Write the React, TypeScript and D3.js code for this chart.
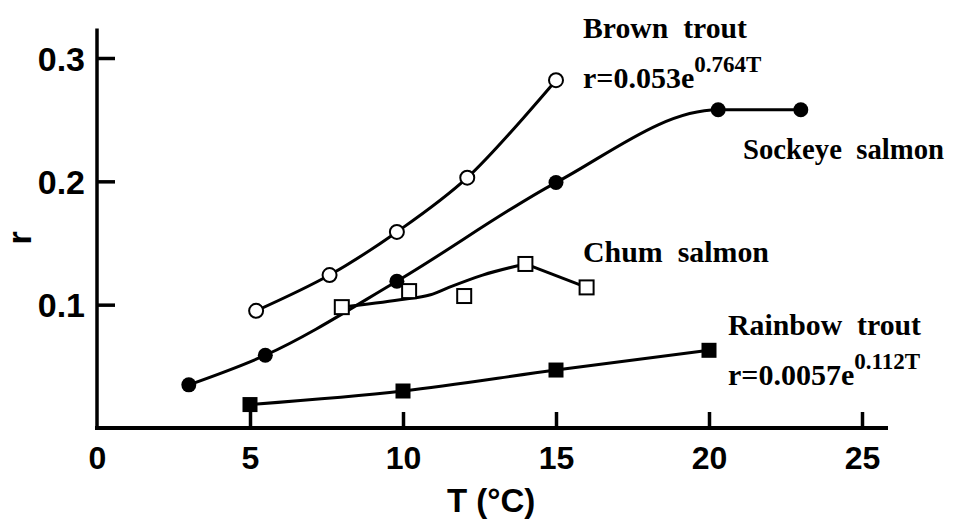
import React, { useEffect, useRef } from 'react';
import * as d3 from 'd3';

// temperature (°C) and growth rate r
const tempTicks = [0, 5, 10, 15, 20, 25];
const rTicks = [0.1, 0.2, 0.3];

const brownT = [5.2, 7.6, 9.8, 12.1, 15];
const brownR = [0.095, 0.124, 0.159, 0.203, 0.282];

const sockeyeT = [3, 5.5, 9.8, 15, 20.3, 23];
const sockeyeR = [0.035, 0.059, 0.119, 0.199, 0.258, 0.258];

const chumT = [8, 10.2, 12, 14, 16];
const chumR = [0.098, 0.111, 0.107, 0.133, 0.114];
// hand-drawn smooth line through the chum salmon points
const chumFitT = [8, 9.9, 10.9, 11.5, 12.6, 14];
const chumFitR = [0.098, 0.104, 0.108, 0.114, 0.124, 0.133];

const rainbowT = [5, 10, 15, 20];
const rainbowR = [0.019, 0.03, 0.047, 0.063];

const zip = (t: number[], r: number[]) => t.map((d, i) => [d, r[i]] as [number, number]);

const App = () => {
  const ref = useRef<SVGSVGElement>(null);

  useEffect(() => {
    const width = 954;
    const height = 519;
    const svg = d3.select(ref.current);
    svg.selectAll('*').remove();
    svg.attr('width', width).attr('height', height);

    const x = d3.scaleLinear().domain([0, 25]).range([97, 862]);
    const y = d3.scaleLinear().domain([0, 0.3]).range([428, 58]);

    const sans = "'Liberation Sans', Arial, sans-serif";
    const serif = "'Liberation Serif', 'Times New Roman', serif";

    // axis lines
    svg.append('line')
      .attr('x1', x(0)).attr('x2', x(0))
      .attr('y1', y(0) + 2).attr('y2', y(0.324))
      .attr('stroke', '#000').attr('stroke-width', 3.5);
    svg.append('line')
      .attr('x1', x(0) - 2).attr('x2', x(25.85))
      .attr('y1', y(0)).attr('y2', y(0))
      .attr('stroke', '#000').attr('stroke-width', 4);

    // y axis ticks point inward
    const yAxis = d3.axisLeft(y).tickValues(rTicks).tickSize(-18).tickSizeOuter(0)
      .tickPadding(12).tickFormat(d3.format('.1f'));
    const gy = svg.append('g').attr('transform', `translate(${x(0)},0)`).call(yAxis);
    gy.select('.domain').remove();
    gy.selectAll('line').attr('stroke', '#000').attr('stroke-width', 3.5);
    gy.selectAll('text')
      .attr('font-family', sans).attr('font-weight', 'bold').attr('font-size', 34)
      .attr('fill', '#000').attr('dy', '0.36em');

    // x axis ticks point up
    const xAxis = d3.axisBottom(x).tickValues(tempTicks).tickSize(-16).tickSizeOuter(0)
      .tickPadding(18).tickFormat(d3.format('d'));
    const gx = svg.append('g').attr('transform', `translate(0,${y(0)})`).call(xAxis);
    gx.select('.domain').remove();
    gx.selectAll('line').attr('stroke', '#000').attr('stroke-width', 3.5);
    gx.selectAll('.tick').filter((d) => d === 0).select('line').remove();
    gx.selectAll('text')
      .attr('font-family', sans).attr('font-weight', 'bold').attr('font-size', 32)
      .attr('fill', '#000').attr('dy', '0.71em');

    // axis titles
    svg.append('text')
      .attr('transform', 'translate(31,238) rotate(-90)')
      .attr('text-anchor', 'middle')
      .attr('font-family', sans).attr('font-weight', 'bold').attr('font-size', 34)
      .text('r');
    svg.append('text')
      .attr('x', 447).attr('y', 512)
      .attr('font-family', sans).attr('font-weight', 'bold').attr('font-size', 33)
      .text('T (°C)');

    const smooth = d3.line<[number, number]>()
      .x((d) => x(d[0])).y((d) => y(d[1])).curve(d3.curveMonotoneX);
    const catmull = d3.line<[number, number]>()
      .x((d) => x(d[0])).y((d) => y(d[1])).curve(d3.curveCatmullRom.alpha(0.5));
    const straight = d3.line<[number, number]>()
      .x((d) => x(d[0])).y((d) => y(d[1]));

    const lines = svg.append('g').attr('fill', 'none').attr('stroke', '#000').attr('stroke-width', 3);
    lines.append('path').attr('d', catmull(zip(brownT, brownR)));
    lines.append('path').attr('d', smooth(zip(sockeyeT, sockeyeR)));
    lines.append('path').attr('d', smooth(zip(chumFitT, chumFitR)));
    lines.append('path').attr('d', straight(zip(chumT, chumR).slice(3)));
    lines.append('path').attr('d', smooth(zip(rainbowT, rainbowR)));

    // markers
    const r = 7;
    svg.append('g').selectAll('circle').data(zip(brownT, brownR)).join('circle')
      .attr('cx', (d) => x(d[0])).attr('cy', (d) => y(d[1])).attr('r', r)
      .attr('fill', '#fff').attr('stroke', '#000').attr('stroke-width', 2);
    svg.append('g').selectAll('circle').data(zip(sockeyeT, sockeyeR)).join('circle')
      .attr('cx', (d) => x(d[0])).attr('cy', (d) => y(d[1])).attr('r', r + 0.5)
      .attr('fill', '#000');
    svg.append('g').selectAll('rect').data(zip(chumT, chumR)).join('rect')
      .attr('x', (d) => x(d[0]) - 7).attr('y', (d) => y(d[1]) - 7)
      .attr('width', 14).attr('height', 14)
      .attr('fill', '#fff').attr('stroke', '#000').attr('stroke-width', 2);
    svg.append('g').selectAll('rect').data(zip(rainbowT, rainbowR)).join('rect')
      .attr('x', (d) => x(d[0]) - 7.5).attr('y', (d) => y(d[1]) - 7.5)
      .attr('width', 15).attr('height', 15)
      .attr('fill', '#000');

    // series labels
    const label = (tx: number, ty: number, text: string, len: number) =>
      svg.append('text').attr('x', tx).attr('y', ty)
        .attr('font-family', serif).attr('font-weight', 'bold').attr('font-size', 30)
        .attr('textLength', len).attr('lengthAdjust', 'spacingAndGlyphs')
        .style('white-space', 'pre').text(text);
    const formula = (tx: number, ty: number, base: string, exp: string) => {
      const t = svg.append('text').attr('x', tx).attr('y', ty)
        .attr('font-family', serif).attr('font-weight', 'bold').attr('font-size', 30);
      t.append('tspan').text(base);
      t.append('tspan').attr('dy', -16).attr('font-size', 23).text(exp);
    };

    label(583, 38, 'Brown  trout', 164);
    formula(583, 88, 'r=0.053e', '0.764T');
    label(743, 159, 'Sockeye  salmon', 201);
    label(583, 262, 'Chum  salmon', 186);
    label(728, 335, 'Rainbow  trout', 193);
    formula(728, 385, 'r=0.0057e', '0.112T');
  }, []);

  return (
    <svg ref={ref} style={{ position: 'absolute', left: 0, top: 0, display: 'block', background: '#fff' }} />
  );
};

export default App;
